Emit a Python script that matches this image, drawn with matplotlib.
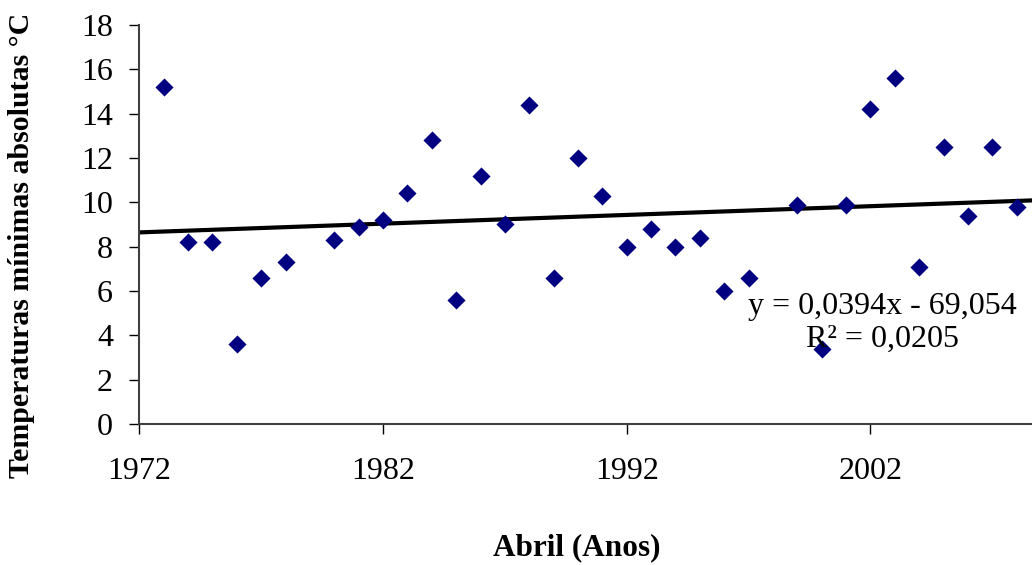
import numpy as np
import matplotlib
matplotlib.use('Agg')
import matplotlib.pyplot as plt

plt.rcParams['font.family'] = ['Liberation Serif', 'DejaVu Serif']

anos = [1973, 1974, 1975, 1976, 1977, 1978, 1980, 1981, 1982, 1983, 1984,
        1985, 1986, 1987, 1988, 1989, 1990, 1991, 1992, 1993, 1994, 1995,
        1996, 1997, 1999, 2000, 2001, 2002, 2003, 2004, 2005, 2006, 2007, 2008]
temp_min = [15.2, 8.2, 8.2, 3.6, 6.6, 7.3, 8.3, 8.9, 9.2, 10.4, 12.8,
            5.6, 11.2, 9.0, 14.4, 6.6, 12.0, 10.3, 8.0, 8.8, 8.0, 8.4,
            6.0, 6.6, 9.9, 3.4, 9.9, 14.2, 15.6, 7.1, 12.5, 9.4, 12.5, 9.8]

# linha de tendencia (valores da equacao no grafico)
a = 0.0394
b = -69.054
r2 = 0.0205

fig = plt.figure(figsize=(10.32, 5.65), dpi=100)
ax = fig.add_axes([0.135, 0.2496, 0.865, 0.7062])

ax.scatter(anos, temp_min, marker='D', s=85, color='#000080', zorder=3, linewidths=0)

xl = np.array([1972, 2008.63])
ax.plot(xl, a * xl + b, color='black', lw=3, zorder=2)

ax.set_xlim(1972, 2008.63)
ax.set_ylim(0, 18)
ax.set_xticks([1972, 1982, 1992, 2002])
ax.set_yticks(range(0, 19, 2))

ax.spines['top'].set_visible(False)
ax.spines['right'].set_visible(False)
for s in ['left', 'bottom']:
    ax.spines[s].set_color('#404040')
    ax.spines[s].set_linewidth(1.5)

ax.tick_params(axis='y', direction='out', length=7, width=1, pad=12, labelsize=23)
ax.tick_params(axis='x', direction='out', length=7, width=1, pad=17, labelsize=23)

ax.text(2002.5, 4.55, 'y = 0,0394x - 69,054\nR² = 0,0205', ha='center', va='center',
        fontsize=23, linespacing=1.15)

fig.text(22 / 1032, 1 - 245 / 565, 'Temperaturas mínimas absolutas °C', rotation=90,
         ha='center', va='center', fontsize=21.5, fontweight='bold')
fig.text(577 / 1032, 1 - 548 / 565, 'Abril (Anos)', ha='center', va='center',
         fontsize=22.5, fontweight='bold')

fig.savefig('out.png', dpi=100)
